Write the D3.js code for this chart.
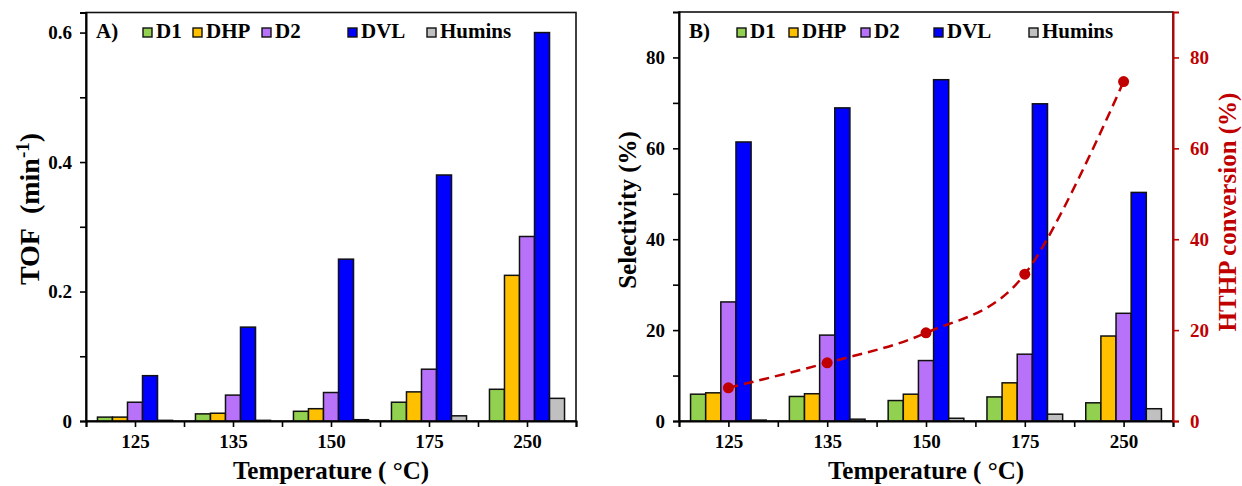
<!DOCTYPE html>
<html>
<head>
<meta charset="utf-8">
<script src="https://cdn.jsdelivr.net/npm/d3@7"></script>
<style>
body { margin: 0; background: #fff; }
text { font-family: "Times New Roman", "Liberation Serif", serif; font-weight: bold; }
</style>
</head>
<body>
<script>
// categories
const temps = ["125", "135", "150", "175", "250"];
const species = ["D1", "DHP", "D2", "DVL", "Humins"];
const colors = ["#92d050", "#ffc000", "#b872fa", "#0000ff", "#c0c0c0"];

// panel A: TOF (min-1)
const tofD1 = [0.006, 0.011, 0.015, 0.029, 0.049];
const tofDHP = [0.006, 0.012, 0.019, 0.045, 0.225];
const tofD2 = [0.029, 0.040, 0.044, 0.080, 0.285];
const tofDVL = [0.070, 0.145, 0.250, 0.380, 0.600];
const tofHumins = [0.001, 0.001, 0.002, 0.008, 0.035];

// panel B: selectivity (%) and HTHP conversion (%)
const selD1 = [5.9, 5.4, 4.5, 5.3, 4.0];
const selDHP = [6.2, 6.0, 5.9, 8.4, 18.7];
const selD2 = [26.2, 18.9, 13.3, 14.7, 23.7];
const selDVL = [61.4, 68.9, 75.1, 69.8, 50.3];
const selHumins = [0.2, 0.4, 0.6, 1.5, 2.7];
const conversion = [7.3, 12.8, 19.4, 32.3, 74.7];

const red = "#c00000";

const svg = d3.select("body").append("svg")
    .attr("width", 1242)
    .attr("height", 486);

function drawPanel(p) {
    const g = svg.append("g");
    const x0 = d3.scaleBand().domain(temps).range([p.left, p.right]).padding(0);
    const gap = x0.bandwidth() * 0.117;
    const x1 = d3.scaleBand().domain(species).range([gap, x0.bandwidth() - gap]);
    const xLin = d3.scaleLinear().domain([0, temps.length]).range([p.left, p.right]);
    const y = d3.scaleLinear().domain(p.yDomain).range([p.bottom, p.top]);

    // frame
    g.append("rect")
        .attr("x", p.left).attr("y", p.top)
        .attr("width", p.right - p.left).attr("height", p.bottom - p.top)
        .attr("fill", "none").attr("stroke", "#111").attr("stroke-width", 1.6);

    // bars
    const rows = temps.map((t, i) => ({ t: t, vals: p.series.map(s => s[i]) }));
    g.selectAll(".grp")
        .data(rows)
        .enter().append("g")
        .attr("transform", d => "translate(" + x0(d.t) + ",0)")
        .selectAll("rect")
        .data(d => d.vals.map((v, k) => ({ k: k, v: v })))
        .enter().append("rect")
        .attr("x", d => x1(species[d.k]))
        .attr("width", x1.bandwidth())
        .attr("y", d => y(d.v))
        .attr("height", d => y(0) - y(d.v))
        .attr("fill", d => colors[d.k])
        .attr("stroke", "#111")
        .attr("stroke-width", 1.5);

    // y axis
    const yAxis = g.append("g")
        .attr("transform", "translate(" + p.left + ",0)")
        .call(d3.axisLeft(y)
            .tickValues(p.yTicks)
            .tickFormat(p.yFormat)
            .tickSize(6)
            .tickPadding(8));
    yAxis.select(".domain").attr("stroke", "#000").attr("stroke-width", 2);
    yAxis.selectAll(".tick line").attr("stroke", "#000").attr("stroke-width", 1.6);
    yAxis.selectAll("text").attr("font-size", 19).attr("fill", "#000");

    // x axis: ticks at group edges and centres
    const xAxis = g.append("g")
        .attr("transform", "translate(0," + p.bottom + ")")
        .call(d3.axisBottom(xLin)
            .tickValues(d3.range(0, temps.length + 0.01, 0.5))
            .tickFormat(v => (v % 1) ? temps[Math.floor(v)] : "")
            .tickSize(6)
            .tickPadding(7.5));
    xAxis.select(".domain").attr("stroke", "#000").attr("stroke-width", 2);
    xAxis.selectAll(".tick line").attr("stroke", "#000").attr("stroke-width", 1.6);
    xAxis.selectAll("text").attr("font-size", 19).attr("fill", "#000");

    // x title
    g.append("text")
        .attr("x", (p.left + p.right) / 2)
        .attr("y", 479)
        .attr("text-anchor", "middle")
        .attr("font-size", 25)
        .text("Temperature ( °C)");

    // y title
    const yt = g.append("text")
        .attr("transform", "translate(" + p.yTitleX + "," + p.yTitleY + ") rotate(-90)")
        .attr("text-anchor", "middle")
        .attr("font-size", 25);
    p.yTitle(yt);

    // legend
    const lg = g.append("g").attr("font-size", 21);
    lg.append("text").attr("x", p.left + 10).attr("y", 38).text(p.letter);
    species.forEach((s, k) => {
        const lx = p.left + p.legendX[k];
        lg.append("rect")
            .attr("x", lx).attr("y", 28)
            .attr("width", 9).attr("height", 9)
            .attr("fill", colors[k])
            .attr("stroke", "#111").attr("stroke-width", 1.4);
        lg.append("text").attr("x", lx + 13).attr("y", 38).text(s);
    });

    return { x0: x0, y: y, g: g };
}

// Panel A
drawPanel({
    left: 86, right: 576, top: 12.5, bottom: 421,
    yDomain: [0, 0.631],
    yTicks: d3.range(0, 0.61, 0.1).map(v => +v.toFixed(1)),
    yFormat: v => (Math.round(v * 10) % 2) ? "" : (v === 0 ? "0" : v.toFixed(1)),
    series: [tofD1, tofDHP, tofD2, tofDVL, tofHumins],
    letter: "A)",
    legendX: [57, 107, 176, 262, 341],
    yTitleX: 39, yTitleY: 209,
    yTitle: t => {
        t.attr("font-size", 28);
        t.append("tspan").text("TOF\u00a0\u00a0(min");
        t.append("tspan").attr("font-size", 19).attr("dy", -10).text("-1");
        t.append("tspan").attr("dy", 10).text(")");
    }
});

// Panel B
const pb = drawPanel({
    left: 679, right: 1173, top: 12, bottom: 421,
    yDomain: [0, 90],
    yTicks: d3.range(0, 81, 10),
    yFormat: v => (v % 20) ? "" : String(v),
    series: [selD1, selDHP, selD2, selDVL, selHumins],
    letter: "B)",
    legendX: [58, 110, 182, 255, 350],
    yTitleX: 636, yTitleY: 210,
    yTitle: t => t.text("Selectivity (%)")
});

// right axis: HTHP conversion
const yR = d3.scaleLinear().domain([0, 90]).range([421, 12]);
const rAxis = svg.append("g")
    .attr("transform", "translate(1173,0)")
    .call(d3.axisRight(yR)
        .tickValues([0, 20, 40, 60, 80])
        .tickSize(6)
        .tickPadding(11));
rAxis.select(".domain").attr("stroke", red).attr("stroke-width", 2);
rAxis.selectAll(".tick line").attr("stroke", red).attr("stroke-width", 1.6);
rAxis.selectAll("text").attr("font-size", 19).attr("fill", red);

svg.append("text")
    .attr("transform", "translate(1236,212) rotate(-90)")
    .attr("text-anchor", "middle")
    .attr("font-size", 25)
    .attr("fill", red)
    .text("HTHP conversion (%)");

// conversion curve and points
const cx = (d, i) => pb.x0(temps[i]) + pb.x0.bandwidth() / 2;
const line = d3.line()
    .x(cx)
    .y(d => yR(d))
    .curve(d3.curveCatmullRom.alpha(0));
svg.append("path")
    .datum(conversion)
    .attr("d", line)
    .attr("fill", "none")
    .attr("stroke", red)
    .attr("stroke-width", 2.5)
    .attr("stroke-dasharray", "10,6");
svg.selectAll(".conv")
    .data(conversion)
    .enter().append("circle")
    .attr("cx", cx)
    .attr("cy", d => yR(d))
    .attr("r", 5.5)
    .attr("fill", red);
</script>
</body>
</html>
